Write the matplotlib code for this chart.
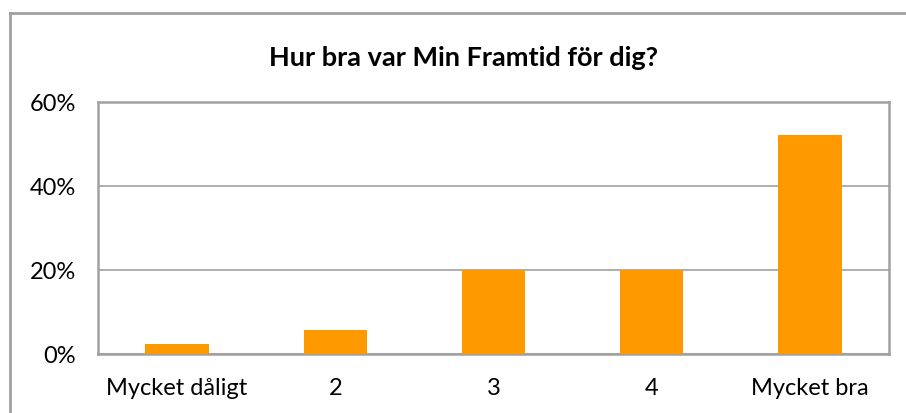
import numpy as np
import matplotlib.pyplot as plt
from matplotlib.lines import Line2D
from matplotlib.ticker import PercentFormatter

# survey answers, share of respondents
categories = ['Mycket dåligt', '2', '3', '4', 'Mycket bra']
shares = [2.2, 5.5, 20.0, 20.0, 52.2]
yticks = [0, 20, 40, 60]

plt.rcParams['font.family'] = ['Lato', 'DejaVu Sans']
grey = '#a0a0a0'

fig = plt.figure(figsize=(9.06, 4.14), dpi=100)
ax = fig.add_axes([98 / 906, 1 - 354.5 / 414, (889 - 98) / 906, (354.5 - 103) / 414])

x = np.arange(len(categories))
ax.bar(x, shares, width=0.4, color='#ff9900', zorder=3)

ax.set_xlim(-0.5, len(categories) - 0.5)
ax.set_ylim(0, 60)
ax.set_yticks(yticks)
ax.yaxis.set_major_formatter(PercentFormatter(decimals=0))
ax.set_xticks(x)
ax.set_xticklabels(categories)
ax.tick_params(length=0, labelsize=17, colors='black')
ax.tick_params(axis='x', pad=17)
ax.tick_params(axis='y', pad=16)
ax.grid(axis='y', color=grey, lw=1.2, zorder=0)
for s in ax.spines.values():
    s.set_color(grey)
    s.set_linewidth(1.8)

fig.text(464 / 906, 1 - 58 / 414, 'Hur bra var Min Framtid för dig?',
         ha='center', va='center', fontsize=19.5, fontweight='bold')

# outer chart frame (right and bottom edges fall outside the image)
fig.add_artist(Line2D([9.5 / 906, 9.5 / 906], [0, 1 - 13.5 / 414], transform=fig.transFigure, color=grey, lw=2))
fig.add_artist(Line2D([9.5 / 906, 1], [1 - 13.5 / 414, 1 - 13.5 / 414], transform=fig.transFigure, color=grey, lw=2))

fig.savefig('out.png', dpi=100)
